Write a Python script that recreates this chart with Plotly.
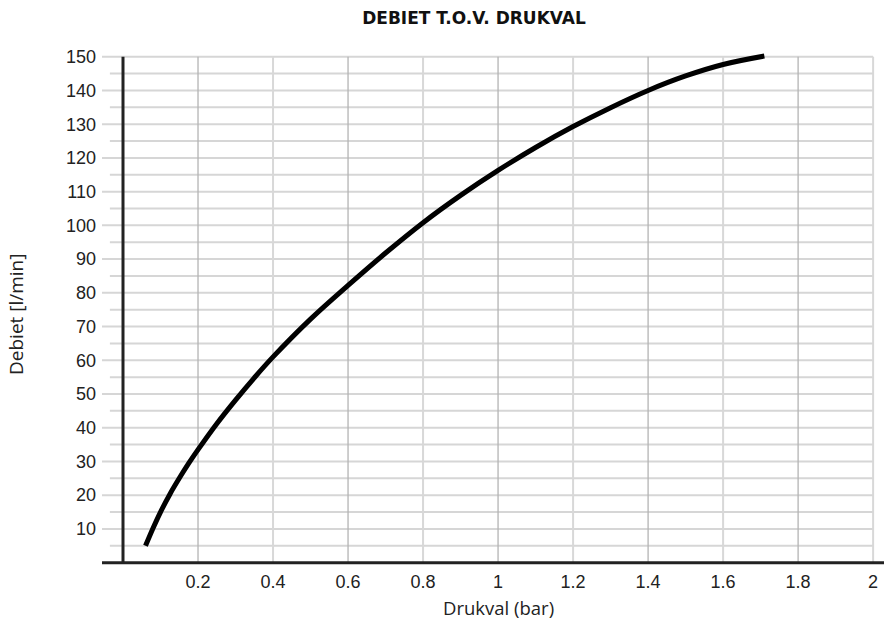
import plotly.graph_objects as go

# Data
drukval = [0.06, 0.08, 0.1, 0.125, 0.15, 0.175, 0.2, 0.25, 0.3, 0.35, 0.4,
           0.5, 0.6, 0.7, 0.8, 0.9, 1.0, 1.1, 1.2, 1.3, 1.4, 1.5, 1.6, 1.71]
debiet = [5, 10.2, 15.0, 20.3, 25.0, 29.4, 33.5, 41.2, 48.2, 54.8, 61,
          72.2, 82.2, 91.8, 100.8, 108.9, 116.3, 123.1, 129.3, 134.9, 140,
          144.3, 147.7, 150.2]

x_ticks = [0.2, 0.4, 0.6, 0.8, 1.0, 1.2, 1.4, 1.6, 1.8, 2.0]
x_ticktext = ["0.2", "0.4", "0.6", "0.8", "1", "1.2", "1.4", "1.6", "1.8", "2"]
y_ticks = [10, 20, 30, 40, 50, 60, 70, 80, 90, 100, 110, 120, 130, 140, 150]
y_minor = [5, 15, 25, 35, 45, 55, 65, 75, 85, 95, 105, 115, 125, 135, 145]

X_MIN, X_MAX = -0.056, 2.029
Y_MIN, Y_MAX = -1, 152

fig = go.Figure()
fig.add_trace(go.Scatter(
    x=drukval, y=debiet, mode="lines",
    line=dict(color="#000000", width=5, shape="spline", smoothing=1.0),
    hoverinfo="skip", showlegend=False,
))

shapes = []
# horizontal gridlines
for v in y_ticks:
    shapes.append(dict(type="line", xref="x", yref="y", x0=X_MIN, x1=2.0, y0=v, y1=v,
                       line=dict(color="#d6d6d6", width=2), layer="below"))
for v in y_minor:
    shapes.append(dict(type="line", xref="x", yref="y", x0=-0.035, x1=2.0, y0=v, y1=v,
                       line=dict(color="#d6d6d6", width=2), layer="below"))
# vertical gridlines (alternating shades)
for i, v in enumerate(x_ticks):
    if i % 2 == 0:
        ln = dict(color="#b4b4b4", width=1.3)
    else:
        ln = dict(color="#d8d8d8", width=2)
    shapes.append(dict(type="line", xref="x", yref="y", x0=v, x1=v, y0=0, y1=150,
                       line=ln, layer="below"))
# axis lines
shapes.append(dict(type="line", xref="x", yref="y", x0=0, x1=0, y0=0, y1=150,
                   line=dict(color="#222222", width=3)))
shapes.append(dict(type="line", xref="paper", yref="y", x0=0, x1=1, y0=0, y1=0,
                   line=dict(color="#222222", width=3)))

fig.update_layout(
    width=884, height=622,
    margin=dict(l=102, r=0, t=50, b=56),
    paper_bgcolor="white", plot_bgcolor="white",
    shapes=shapes,
    xaxis=dict(range=[X_MIN, X_MAX], showgrid=False, zeroline=False, showline=False,
               tickvals=x_ticks, ticktext=x_ticktext, ticks="",
               tickfont=dict(family="Liberation Sans, Arial", size=18, color="#222222"),
               ticklabelstandoff=3),
    yaxis=dict(range=[Y_MIN, Y_MAX], showgrid=False, zeroline=False, showline=False,
               tickvals=y_ticks, ticks="",
               tickfont=dict(family="Liberation Sans, Arial", size=18, color="#222222"),
               ticklabelstandoff=5),
    title=dict(text="<b>DEBIET T.O.V. DRUKVAL</b>", xref="container", yref="container",
               x=474 / 884, xanchor="center", y=1 - 18 / 622, yanchor="middle",
               font=dict(family="DejaVu Sans", size=17, color="#111111")),
    annotations=[
        dict(text="Drukval (bar)", xref="x", yref="paper", x=1.0, y=(566 - 607) / 516,
             xanchor="center", yanchor="middle", showarrow=False,
             font=dict(family="Open Sans", size=18.5, color="#222222")),
        dict(text="Debiet [l/min]", xref="paper", yref="paper", x=(16 - 102) / 782,
             y=(566 - 314) / 516, xanchor="center", yanchor="middle", textangle=-90,
             showarrow=False, font=dict(family="Open Sans", size=19, color="#222222")),
    ],
)

fig.write_html("out.html", config={"displayModeBar": False},
               post_script="document.body.style.margin='0';document.body.style.overflow='hidden';")
